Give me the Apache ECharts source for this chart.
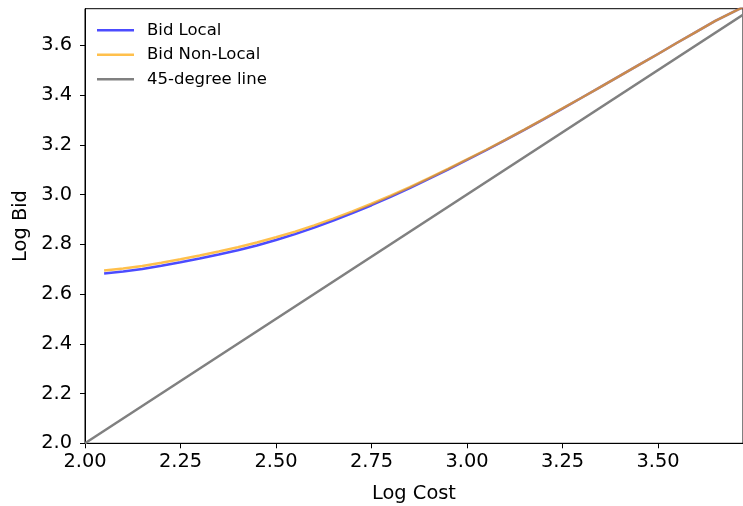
<!DOCTYPE html>
<html>
<head>
<meta charset="utf-8">
<script src="https://cdn.jsdelivr.net/npm/echarts@6/dist/echarts.min.js"></script>
<style>
html,body{margin:0;padding:0;background:#fff;}
#chart{width:743px;height:506px;}
</style>
</head>
<body>
<div id="chart"></div>
<script>
// Data
const logCost = [2.05,2.10,2.15,2.20,2.25,2.30,2.35,2.40,2.45,2.50,2.55,2.60,2.65,2.70,2.75,2.80,2.85,2.90,2.95,3.00,3.05,3.10,3.15,3.20,3.25,3.30,3.35,3.40,3.45,3.50,3.55,3.60,3.65,3.70,3.75];
const bidLocal = [2.683,2.691,2.701,2.714,2.728,2.743,2.759,2.776,2.795,2.817,2.841,2.867,2.895,2.925,2.957,2.991,3.026,3.063,3.100,3.139,3.178,3.219,3.260,3.302,3.345,3.389,3.433,3.477,3.521,3.565,3.610,3.654,3.698,3.736,3.774];
const bidNonLocal = [2.695,2.703,2.713,2.726,2.740,2.755,2.771,2.788,2.807,2.828,2.851,2.876,2.903,2.932,2.963,2.996,3.030,3.066,3.103,3.141,3.180,3.220,3.261,3.303,3.346,3.389,3.433,3.477,3.521,3.565,3.610,3.654,3.698,3.736,3.774];
const diagX = [2.0, 3.75];
const diagY = [2.0, 3.75];
const xTicks = [2.00,2.25,2.50,2.75,3.00,3.25,3.50];
const yTicks = [2.0,2.2,2.4,2.6,2.8,3.0,3.2,3.4,3.6];
const names = ['Bid Local','Bid Non-Local','45-degree line'];

const pair = (xs, ys) => xs.map((x, i) => [x, ys[i]]);
const FONT = 'DejaVu Sans';

const chart = echarts.init(document.getElementById('chart'), null, {renderer:'canvas'});
chart.setOption({
  animation:false,
  backgroundColor:'#fff',
  grid:{left:85, top:8.7, right:0, bottom:62.7, show:true, borderColor:'#000', borderWidth:1,
        containLabel:false, outerBoundsMode:'none'},
  legend:{
    left:92, top:16, orient:'vertical', itemWidth:37, itemHeight:2.5, itemGap:6,
    icon:'rect',
    data:names,
    textStyle:{fontFamily:FONT, fontSize:16.5, color:'#000', lineHeight:18.5, padding:[0,0,0,8]}
  },
  xAxis:{
    type:'value', min:2.0, max:3.7225, interval:0.25,
    name:'Log Cost', nameLocation:'middle', nameGap:41,
    nameTextStyle:{fontFamily:FONT, fontSize:19.4, color:'#000'},
    axisLine:{show:true, onZero:false, lineStyle:{color:'#000', width:1}},
    axisTick:{show:true, inside:false, length:5, lineStyle:{color:'#000'}, customValues:xTicks},
    axisLabel:{fontFamily:FONT, fontSize:19.4, color:'#000', margin:9, customValues:xTicks,
      formatter:v=>v.toFixed(2)},
    splitLine:{show:false}
  },
  yAxis:{
    type:'value', min:2.0, max:3.747, interval:0.2,
    name:'Log Bid', nameLocation:'middle', nameGap:53, nameRotate:90,
    nameTextStyle:{fontFamily:FONT, fontSize:19.4, color:'#000'},
    axisLine:{show:true, onZero:false, lineStyle:{color:'#000', width:1}},
    axisTick:{show:true, inside:false, length:5, lineStyle:{color:'#000'}, customValues:yTicks},
    axisLabel:{fontFamily:FONT, fontSize:19.4, color:'#000', margin:13, customValues:yTicks,
      formatter:v=>v.toFixed(1)},
    splitLine:{show:false}
  },
  series:[
    {name:names[0], type:'line', data:pair(logCost,bidLocal), showSymbol:false, symbol:'none', smooth:false, clip:true,
     color:'rgba(0,0,255,0.7)', lineStyle:{color:'rgba(0,0,255,0.7)', width:2.5}},
    {name:names[1], type:'line', data:pair(logCost,bidNonLocal), showSymbol:false, symbol:'none', smooth:false, clip:true,
     color:'rgba(255,165,0,0.7)', lineStyle:{color:'rgba(255,165,0,0.7)', width:2.5}},
    {name:names[2], type:'line', data:pair(diagX,diagY), showSymbol:false, symbol:'none', clip:true,
     color:'#808080', lineStyle:{color:'#808080', width:2.5}}
  ]
});
</script>
</body>
</html>
